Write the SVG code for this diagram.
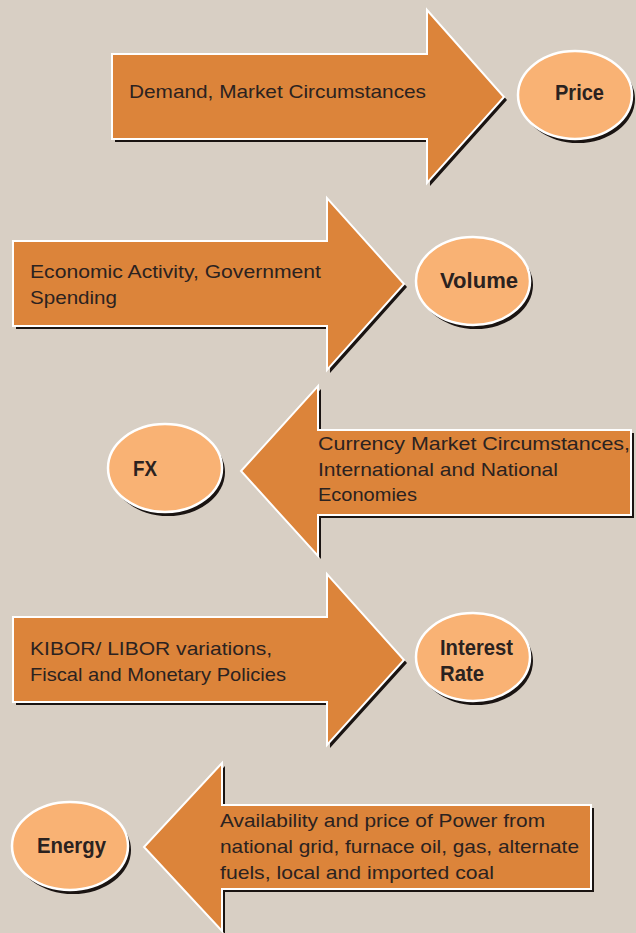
<svg xmlns="http://www.w3.org/2000/svg" width="636" height="933" viewBox="0 0 636 933">
<style>
.bg{fill:#d8cfc4}
.sh{fill:#1a1412}
.ar{fill:#dc843a;stroke:#ffffff;stroke-width:2;stroke-linejoin:miter}
.el{fill:#f9b274;stroke:#ffffff;stroke-width:2.5}
.t{font-family:"Liberation Sans","DejaVu Sans",sans-serif;font-size:19px;fill:#2b2220}
.b{font-family:"Liberation Sans","DejaVu Sans",sans-serif;font-size:22px;font-weight:bold;fill:#2b2220}
</style>
<rect class="bg" x="0" y="0" width="636" height="933"/>
<g id="connectors">
<g id="arrow-price">
<polygon class="sh" transform="translate(3,3)" points="112,54 427,54 427,10 504,97 427,183 427,139 112,139"/>
<polygon class="ar" points="112,54 427,54 427,10 504,97 427,183 427,139 112,139"/>
<text class="t" x="129" y="98" textLength="297" lengthAdjust="spacingAndGlyphs">Demand, Market Circumstances</text>
</g>
<g id="arrow-volume">
<polygon class="sh" transform="translate(3,3)" points="13,241 327,241 327,198 404,284 327,370 327,326 13,326"/>
<polygon class="ar" points="13,241 327,241 327,198 404,284 327,370 327,326 13,326"/>
<text class="t" x="30" y="278" textLength="291" lengthAdjust="spacingAndGlyphs">Economic Activity, Government</text>
<text class="t" x="30" y="304" textLength="87" lengthAdjust="spacingAndGlyphs">Spending</text>
</g>
<g id="arrow-fx">
<polygon class="sh" transform="translate(3,3)" points="631,430 318,430 318,386 241,471 318,556 318,515 631,515"/>
<polygon class="ar" points="631,430 318,430 318,386 241,471 318,556 318,515 631,515"/>
<text class="t" x="318" y="450" textLength="312" lengthAdjust="spacingAndGlyphs">Currency Market Circumstances,</text>
<text class="t" x="318" y="476" textLength="240" lengthAdjust="spacingAndGlyphs">International and National</text>
<text class="t" x="318" y="501" textLength="99" lengthAdjust="spacingAndGlyphs">Economies</text>
</g>
<g id="arrow-interest">
<polygon class="sh" transform="translate(3,3)" points="13,617 327,617 327,574 404,660 327,745 327,702 13,702"/>
<polygon class="ar" points="13,617 327,617 327,574 404,660 327,745 327,702 13,702"/>
<text class="t" x="30" y="655" textLength="242" lengthAdjust="spacingAndGlyphs">KIBOR/ LIBOR variations,</text>
<text class="t" x="30" y="681" textLength="256" lengthAdjust="spacingAndGlyphs">Fiscal and Monetary Policies</text>
</g>
<g id="arrow-energy">
<polygon class="sh" transform="translate(3,3)" points="591,805 222,805 222,763 144,847 222,931 222,889 591,889"/>
<polygon class="ar" points="591,805 222,805 222,763 144,847 222,931 222,889 591,889"/>
<text class="t" x="220" y="827" textLength="325" lengthAdjust="spacingAndGlyphs">Availability and price of Power from</text>
<text class="t" x="220" y="853" textLength="359" lengthAdjust="spacingAndGlyphs">national grid, furnace oil, gas, alternate</text>
<text class="t" x="220" y="879" textLength="274" lengthAdjust="spacingAndGlyphs">fuels, local and imported coal</text>
</g>
</g>
<g id="node-price">
<ellipse class="sh" cx="578" cy="99" rx="57" ry="44"/>
<ellipse class="el" cx="575" cy="95" rx="57" ry="44"/>
<text class="b" x="555" y="100" textLength="49" lengthAdjust="spacingAndGlyphs">Price</text>
</g>
<g id="node-volume">
<ellipse class="sh" cx="476" cy="285" rx="57" ry="44"/>
<ellipse class="el" cx="473" cy="281" rx="57" ry="44"/>
<text class="b" x="440" y="288" textLength="78" lengthAdjust="spacingAndGlyphs">Volume</text>
</g>
<g id="node-fx">
<ellipse class="sh" cx="168" cy="472" rx="57" ry="44"/>
<ellipse class="el" cx="165" cy="468" rx="57" ry="44"/>
<text class="b" x="133" y="476" textLength="24" lengthAdjust="spacingAndGlyphs">FX</text>
</g>
<g id="node-interest">
<ellipse class="sh" cx="476" cy="661" rx="57" ry="44"/>
<ellipse class="el" cx="473" cy="657" rx="57" ry="44"/>
<text class="b" x="440" y="655" textLength="73" lengthAdjust="spacingAndGlyphs">Interest</text>
<text class="b" x="440" y="681" textLength="44" lengthAdjust="spacingAndGlyphs">Rate</text>
</g>
<g id="node-energy">
<ellipse class="sh" cx="73" cy="850" rx="58" ry="44"/>
<ellipse class="el" cx="70" cy="846" rx="58" ry="44"/>
<text class="b" x="37" y="853" textLength="69" lengthAdjust="spacingAndGlyphs">Energy</text>
</g>
</svg>
